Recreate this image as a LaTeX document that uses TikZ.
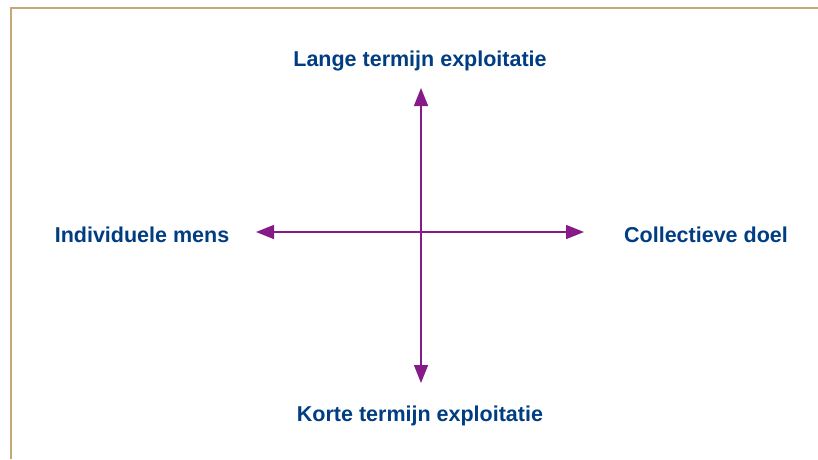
\documentclass[tikz,border=0pt]{standalone}
\usepackage{fontspec}
\setmainfont{Liberation Sans}
\usepackage{xcolor}
\usetikzlibrary{arrows.meta}

\definecolor{labelblue}{RGB}{0,61,130}
\definecolor{axispurple}{RGB}{134,26,136}
\definecolor{frametan}{RGB}{196,168,118}

\tikzset{
  label text/.style={text=labelblue, inner sep=0pt, anchor=base,
    font=\fontsize{21.5}{24}\selectfont\bfseries},
  axis/.style={axispurple, line width=1.5pt,
    {Triangle[length=18pt,width=14pt]}-{Triangle[length=18pt,width=14pt]}},
  frame/.style={frametan, line width=1.8pt}
}

\begin{document}
\begin{tikzpicture}[x=1pt,y=-1pt]

\useasboundingbox (0,0) rectangle (818,459);

\draw[frame] (818,8) -- (11,8) -- (11,459);

% labels
\node[label text] (lange) at (420,66) {Lange termijn exploitatie};
\node[label text] (korte) at (420,421) {Korte termijn exploitatie};
\node[label text] (individu) at (142,242) {Individuele mens};
\node[label text] (collectief) at (706,242) {Collectieve doel};

% ends of the axes
\coordinate (boven) at (421,88);
\coordinate (onder) at (421,383);
\coordinate (links) at (256,232);
\coordinate (rechts) at (584,232);

\draw[axis] (onder) -- (boven);
\draw[axis] (links) -- (rechts);

\end{tikzpicture}
\end{document}
